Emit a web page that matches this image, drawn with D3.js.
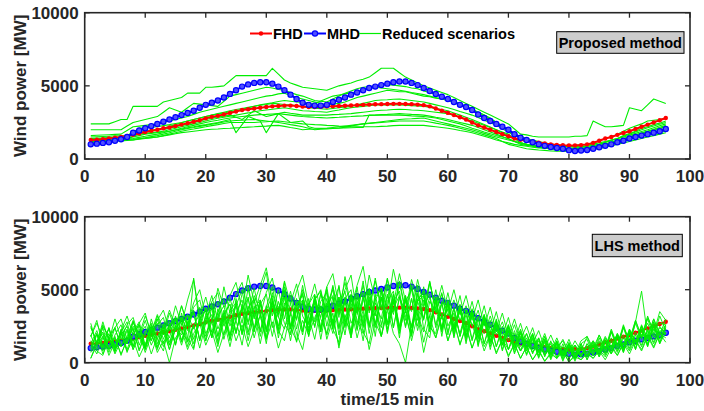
<!DOCTYPE html>
<html>
<head>
<meta charset="utf-8">
<script src="https://cdn.jsdelivr.net/npm/d3@7"></script>
<style>
  body { margin: 0; background: #fff; }
  svg { display: block; font-family: "Liberation Sans", Arial, sans-serif; }
</style>
</head>
<body>
<svg id="chart" width="704" height="411"></svg>
<script>
const W = 704, H = 411;

// time steps 1..96 (15-min intervals)
const steps = d3.range(1, 97);
const xTicks = [0, 10, 20, 30, 40, 50, 60, 70, 80, 90, 100];
const yTicks = [0, 5000, 10000];

// FHD (red) and MHD (blue), MW
const fhd = [1300,1320,1350,1400,1450,1500,1580,1650,1750,1850,1930,2000,2100,2150,2250,2350,2450,2550,2650,2780,
  2880,2950,3050,3150,3250,3350,3400,3450,3500,3550,3600,3630,3650,3650,3620,3580,3550,3550,3560,3580,
  3600,3620,3640,3660,3680,3700,3720,3740,3750,3760,3770,3770,3760,3750,3720,3680,3600,3450,3300,3150,
  3000,2850,2700,2500,2300,2150,2000,1850,1700,1550,1400,1320,1250,1180,1120,1060,1000,960,940,930,
  930,950,1000,1100,1250,1400,1500,1650,1780,1900,2050,2200,2350,2500,2650,2800];
const mhd = [1000,1050,1100,1150,1250,1350,1500,1800,1950,2100,2250,2400,2550,2700,2850,3000,3150,3300,3500,3700,
  3850,4000,4200,4450,4700,4950,5100,5200,5250,5250,5150,4950,4700,4400,4100,3850,3700,3650,3650,3700,
  3900,4050,4200,4400,4550,4700,4850,4950,5050,5150,5250,5300,5300,5200,5050,4850,4650,4450,4250,4100,
  3900,3700,3550,3350,3050,2800,2600,2400,2200,2000,1700,1450,1300,1150,1000,900,820,750,700,600,
  550,580,620,700,800,900,1000,1150,1250,1400,1500,1600,1700,1800,1900,2050];

// Reduced scenarios, proposed method (top panel)
const proposed = [
  [2400,2400,2400,2400,2550,2700,2700,3600,3600,3600,3600,3600,3900,4000,4100,4200,4500,4500,4500,4900,4900,4950,5000,5350,
   5700,5700,5700,5700,5700,5700,6200,5800,5400,5200,5050,4900,4850,4800,4750,4700,4850,5000,5100,5200,5350,5450,5600,5900,
   6200,6200,6200,5900,5600,5400,5200,5000,4850,4700,4550,4400,4200,4000,3800,3600,3400,3200,3000,2800,2600,2400,2050,1700,
   1650,1550,1500,1500,1500,1500,1500,1500,1550,1550,1600,2600,2400,2200,2200,2250,2300,3500,3400,3300,3700,4100,3950,3800],
  [2000,2000,2000,2000,2000,2000,2250,2500,2600,2700,2800,2900,3200,3500,3350,3200,3500,3800,3750,3700,3650,3600,3950,4300,
   4400,4500,4600,4700,4800,4900,4850,4750,4700,4550,4400,4300,4150,4000,3950,3900,4100,4300,4500,4650,4800,4900,4950,5000,
   5050,5100,5050,5000,4950,4850,4800,4650,4550,4400,4250,4100,3950,3800,3600,3400,3200,3000,2750,2500,2250,2000,1750,1500,
   1300,1200,1100,1050,1000,950,920,900,930,970,1000,1100,1250,1400,1500,1700,1900,2100,2250,2400,2600,2650,2700,2800],
  [1600,1620,1640,1660,1680,1700,1950,2200,2250,2300,2350,2400,2500,2600,2700,2800,2900,3050,3200,3300,3400,3500,3600,3700,
   3800,3900,4000,4100,4200,4300,4350,4450,4500,4350,4200,4100,4000,3900,3800,3700,3750,3800,3900,4050,4200,4300,4400,4500,
   4600,4700,4650,4600,4600,4500,4400,4300,4250,4150,4100,4000,3850,3700,3550,3400,3200,3000,2800,2500,2200,1900,1700,1500,
   1300,1200,1100,1050,1000,950,900,850,800,830,870,900,1000,1150,1300,1400,1600,1750,1900,2100,2200,2350,2450,2600],
  [1500,1520,1540,1560,1580,1590,1600,1850,2100,2130,2170,2200,2280,2350,2430,2500,2600,2700,2800,2900,3000,3100,3200,3300,
   3380,3450,3530,3600,3670,3730,3800,3770,3730,3700,3630,3570,3500,3470,3430,3400,3450,3500,3550,3600,3700,3800,3900,4000,
   4030,4050,4080,4100,4050,4000,3950,3900,3800,3700,3600,3500,3380,3250,3130,3000,2830,2650,2480,2300,2070,1830,1600,1430,
   1270,1100,1030,950,880,800,780,750,730,700,770,830,900,1030,1150,1280,1400,1530,1650,1780,1900,2030,2170,2300],
  [1400,1420,1430,1450,1470,1480,1500,1700,1900,1930,1950,1980,2000,2100,2200,2300,2400,2500,2600,2700,2800,2870,2930,3000,
   2850,2700,3000,3300,3100,2900,3000,3100,3200,3130,3070,3000,3000,3000,3000,3000,3030,3050,3080,3100,3150,3200,3250,3300,
   3330,3350,3380,3400,3380,3350,3330,3300,3250,3200,3150,3100,2980,2850,2730,2600,2450,2300,2150,2000,1800,1600,1400,1300,
   1200,1100,1050,1000,950,900,880,850,830,800,870,930,1000,1130,1250,1380,1500,1630,1750,1880,2000,2130,2270,2400],
  [1300,1320,1330,1350,1370,1380,1400,1500,1600,1700,1750,1800,1850,1900,1980,2050,2130,2200,2280,2350,2430,2500,2600,2700,
   1800,2350,2900,2750,2600,1800,2450,3100,2800,2500,2550,2600,2200,2100,2100,2100,2100,2120,2130,2140,2150,2150,3000,3000,
   3000,3000,3000,3000,2980,2950,2930,2900,2850,2800,2700,2600,2500,2400,2250,2100,1980,1850,1730,1600,1500,1400,1200,1000,
   930,870,800,750,700,650,600,600,600,600,670,730,800,930,1050,1180,1300,1430,1550,1680,1800,1930,2070,2200],
  [1200,1230,1260,1290,1310,1340,1370,1400,1480,1550,1630,1700,1800,1900,2000,2100,2200,2300,2400,2500,2580,2650,2730,2800,
   2850,2900,2950,3000,3030,3050,3080,3100,3050,3000,2950,2900,2880,2850,2830,2800,2830,2850,2880,2900,2930,2950,2980,3000,
   3030,3050,3080,3100,3080,3050,3030,3000,2930,2850,2780,2700,2600,2500,2400,2300,2150,2000,1850,1700,1530,1370,1200,1100,
   1000,900,850,800,750,700,680,650,630,600,670,730,800,900,1000,1100,1200,1330,1450,1580,1700,1830,1970,2100],
  [1100,1130,1160,1190,1210,1240,1270,1300,1350,1400,1450,1500,1600,1700,1800,1900,1980,2050,2130,2200,2280,2350,2430,2500,
   2500,2500,2500,2500,2530,2550,2580,2600,2550,2500,2450,2400,2380,2350,2330,2300,2280,2250,2230,2200,2200,2200,2200,2200,
   2230,2250,2280,2300,2300,2300,2300,2300,2250,2200,2150,2100,2030,1950,1880,1800,1680,1550,1430,1300,1200,1100,1000,930,
   870,800,760,730,690,650,640,630,610,600,630,670,700,800,900,1000,1100,1200,1300,1400,1500,1600,1700,1800],
  [1200,1210,1230,1240,1260,1270,1290,1300,1380,1450,1530,1600,1700,1800,1900,2000,2080,2150,2230,2300,2380,2450,2530,2600,
   2630,2650,2680,2700,2650,2600,2550,2500,2430,2350,2280,2200,2100,2000,2030,2050,2080,2100,2180,2250,2330,2400,2430,2470,
   2500,2530,2570,2600,2600,2600,2600,2600,2530,2450,2380,2300,2200,2100,2000,1900,1780,1650,1530,1400,1200,1000,900,800,
   700,660,620,590,550,540,530,510,500,550,600,650,760,880,990,1100,1230,1350,1480,1600,1680,1750,1830,1900],
  [1400,1420,1430,1450,1470,1480,1500,1650,1800,1880,1950,2030,2100,2230,2350,2480,2600,2700,2800,2900,3000,3080,3150,3230,
   3300,3400,3500,3600,3700,3780,3850,3930,4000,3950,3900,3870,3830,3800,3970,4130,4300,4380,4450,4530,4600,4700,4800,4900,
   4850,4800,4750,4700,4630,4550,4480,4400,4300,4200,4100,4000,3870,3730,3600,3370,3130,2900,2700,2500,2300,2000,1700,1550,
   1400,1300,1200,1100,1030,970,900,880,870,850,930,1020,1100,1200,1300,1400,1550,1700,1850,2000,2130,2250,2380,2500],
  [1300,1320,1330,1350,1370,1380,1400,1550,1700,1750,1800,1850,1900,2000,2100,2200,2300,2400,2500,2600,2700,2780,2850,2930,
   3000,3080,3150,3230,3300,3350,3400,3450,3500,3430,3370,3300,3280,3250,3230,3200,3280,3350,3430,3500,3550,3600,3650,3700,
   3700,3700,3700,3700,3680,3650,3630,3600,3530,3450,3380,3300,3150,3000,2850,2700,2530,2350,2180,2000,1850,1700,1400,1100,
   1000,900,800,760,730,690,650,660,670,690,700,800,900,1000,1130,1250,1380,1500,1630,1770,1900,2000,2100,2200],
  [1250,1260,1280,1290,1310,1320,1340,1350,1390,1430,1460,1500,1580,1650,1730,1800,1850,1900,1950,2000,2030,2050,2080,2100,
   2130,2150,2180,2200,2230,2250,2280,2300,2230,2150,2080,2000,2030,2050,2080,2100,2150,2200,2250,2300,2350,2400,2450,2500,
   2550,2600,2650,2700,2730,2750,2780,2800,2700,2600,2500,2400,2300,2200,2100,2000,1880,1750,1630,1500,1400,1300,1200,1100,
   1000,930,870,800,780,750,730,700,730,750,780,800,900,1000,1100,1200,1330,1450,1580,1700,1780,1850,1930,2000]
];

// Scenarios, LHS method (bottom panel)
const lhs = [
  [2700,1200,2400,900,1900,2600,1300,2800,1700,1000,2300,3000,1600,2700,1200,3100,2200,3600,1500,2900,4100,2300,3400,1800,
   4400,2700,5100,3000,4200,2100,4800,3300,5500,2500,3900,4700,2200,4300,3100,5200,2700,4000,1900,4600,3400,5600,2600,4100,
   3000,5300,2400,4500,3200,1800,4700,2900,5500,3600,2400,4200,2300,3700,1700,3300,2100,2900,1300,2400,1600,900,1800,1100,
   1500,700,1300,500,1100,1400,600,1200,900,400,1300,800,1500,900,2100,1200,2400,1600,2900,1800,3100,2200,2700,2600],
  [1000,2000,600,1600,2400,1100,1800,2900,1200,2200,1500,2600,3100,1400,2500,1900,3300,2300,3800,2000,2900,4200,2500,3300,
   2000,4000,2800,4600,3500,1600,4200,3100,5000,2400,3600,1900,4100,2800,4700,3400,2000,3900,4900,2700,3600,1500,4300,3200,
   5000,2600,3700,4600,2900,5200,3300,2100,4200,3500,4800,2500,3400,2000,3600,2600,1400,2800,2000,2600,1200,2100,1500,800,
   1400,900,1600,600,1000,1300,500,900,1200,600,1000,1500,800,1700,1100,2000,900,2300,1500,1900,2700,1700,2400,2000],
  [1500,900,2500,1700,700,2200,3200,1900,2700,3400,1800,2900,3600,2200,3900,2600,4300,5700,3200,4500,2900,5100,3800,4600,
   5500,3600,6000,4100,5300,6500,4200,3300,5600,4000,2900,5000,3700,2500,4800,3400,5300,3100,5900,3900,4700,3300,6000,4300,
   5100,3800,6400,4500,3500,5700,4200,3000,5600,3400,4700,3200,4300,2900,3900,2500,3600,2000,3200,1900,2800,1500,2600,1300,
   2000,1000,1700,700,1400,1000,1500,600,1200,500,1000,1400,700,1500,1100,1900,1000,2200,1400,2600,1600,2300,1900,2300],
  [300,1200,1800,500,1400,2000,800,1600,400,1300,2100,700,1500,0,1700,2300,900,2000,2700,1200,2200,700,2000,3000,
   1500,2600,1100,2300,3200,1600,2800,1000,2400,3300,1400,2900,1900,3100,3900,1600,3000,1200,2700,3800,1700,3300,900,2800,
   1800,3500,4200,2200,3600,1500,3300,700,2600,1700,3200,1500,2700,1300,2400,1000,2200,1100,1900,700,1600,500,1300,300,
   1100,200,900,100,700,300,900,0,600,200,800,300,900,400,1200,500,1400,800,1600,900,1900,1100,2000,1700],
  [2400,1400,2600,1700,900,2300,1300,2500,1900,1000,2600,1600,2600,1700,3200,2100,1500,5800,2600,3800,2100,3500,4400,2500,
   3900,5000,2600,4300,2200,3800,5200,3100,2300,4100,5400,3200,2400,4600,3000,2000,4100,5200,2900,2200,4500,2700,5100,3400,
   2400,4700,3300,5600,3600,2500,4800,3000,4500,2600,4200,3600,2300,3900,2400,3600,2000,3300,1800,2900,1500,2600,1200,2300,
   1100,2000,800,1800,600,1400,500,1300,600,1100,700,1500,900,1800,1000,2000,1200,2300,1400,2500,1700,3000,2000,2600],
  [1100,2000,800,1800,2400,1100,2200,900,1900,2500,1200,2200,1100,2400,3000,1500,2800,1300,2900,3600,1700,3200,3900,1900,
   3400,4300,2100,3900,1800,3600,4600,2300,4100,2000,3800,4800,2600,4400,2100,4000,5000,2400,4500,1900,4200,2500,4800,2700,
   4500,2000,4200,4900,2500,4400,2200,3900,4700,2400,4100,2100,3700,1800,3300,1500,3000,1300,2600,1100,2300,900,2000,800,
   1700,700,1500,500,1300,400,1100,300,900,400,1100,500,1200,500,1500,700,1700,900,1900,1100,2200,1300,2200,2000],
  [1900,800,500,1700,600,1500,2300,900,2000,700,1900,1000,2200,900,2500,1200,2700,1000,3000,1500,2800,1100,3200,1600,
   2900,1200,3600,1700,3300,1300,3900,2200,1500,3500,2000,900,3200,1600,3800,1900,3400,1000,3300,1700,4000,2100,1300,3600,
   1800,3700,2000,1300,0,2600,3600,1400,3200,1700,3400,1500,2900,1200,2600,1000,2200,800,1900,600,1600,400,1300,300,
   1100,200,800,100,600,300,700,100,400,200,600,300,800,200,1000,500,1300,600,1500,800,1800,1000,2000,1400],
  [1800,2700,1700,1100,2400,3000,1600,2800,1900,3200,2100,3300,2300,3600,2500,3900,2600,4100,5000,3200,4600,2800,5200,3400,
   4700,5500,3400,5100,3200,4800,5800,3600,5200,3300,4900,6000,3900,5400,3500,5200,6100,3800,5500,3700,5300,6600,3900,5600,
   3800,5800,4000,6100,4200,3500,5700,3900,5500,3700,5300,3500,5000,3300,4600,2900,4300,2500,3800,2100,3400,1800,3000,1600,
   2500,1300,2200,1000,1900,900,1600,700,1500,800,1800,1000,1900,1000,2300,1200,2600,1400,2900,1700,3200,2000,3500,2900],
  [700,1500,2100,900,1700,600,1500,2400,900,2000,2700,1300,2400,1200,2300,3000,1400,2600,3300,1800,3000,1500,3300,4000,
   2100,3700,4400,2400,4000,4700,2400,4200,2700,1900,4000,4600,2700,4300,2400,4100,2300,4500,2800,4700,2900,2000,4300,2600,
   4400,2700,4700,2400,4200,5000,2900,4600,2500,4200,2400,4000,2200,3700,1900,3400,1700,3200,1500,2800,1200,2500,1000,2100,
   900,1900,700,1600,500,1500,400,1300,300,1300,500,1400,600,1600,800,1900,900,2100,1200,2500,1300,2800,1600,2500],
  [1800,2900,1100,2400,800,2100,2800,1100,2600,900,3000,1600,800,2700,1200,3400,1700,900,3200,1500,3900,1800,3600,1500,
   4200,2000,4500,2100,4000,1700,4400,2200,4900,2400,1500,4300,1800,4600,2100,5000,2300,1400,4400,2000,5200,2400,4500,1800,
   4900,2100,4300,1700,4600,2000,5300,2300,1700,4500,2100,4100,1700,3700,1300,3400,1100,3000,900,2600,800,2200,600,1800,
   500,1600,300,1400,200,1200,100,1100,300,1300,200,1200,400,1500,600,1900,700,2200,900,2500,1100,2800,1400,2400],
  [1300,600,1700,2300,1000,2100,700,1900,2600,1100,2400,900,2200,2900,1300,2600,3300,1600,3000,3700,1800,3400,1600,3300,
   3900,1900,3700,4400,2100,3900,1800,3800,4500,2300,4100,2100,4000,4700,2300,4400,2400,5300,2500,4600,2200,4300,5000,2400,
   4500,2300,4400,2200,4300,2000,4200,4600,2400,2000,4100,1900,3800,1800,3600,1600,3200,1300,2900,1100,2500,900,2200,800,
   2000,600,1700,400,1500,300,1300,200,1200,400,1300,500,1400,600,1700,800,1900,1000,2100,1200,2300,1400,2500,1900],
  [1300,2200,1000,2000,800,1900,2500,1100,2300,900,2100,2700,1300,2500,3100,1500,2900,3500,1600,3100,3700,1800,3400,4000,
   2000,3800,1900,3700,4300,2200,4100,2000,3900,4600,2300,4200,2100,4300,4900,2500,4500,2300,4400,5000,2600,4600,2400,4500,
   5100,2700,4700,2500,4600,2400,4300,4900,2600,4500,2300,4300,2400,4000,2100,3700,1800,3300,1500,3000,1300,2600,1100,2200,
   1000,2000,700,1800,600,1500,500,1400,400,1300,1600,500,1700,700,2100,900,2400,1200,2800,4900,1800,3000,1900,3000],
  [800,1900,1000,2400,1100,2200,900,2100,2800,1200,2500,1100,2700,1200,3000,1400,2700,3400,1500,3200,1700,3700,1900,3600,
   4100,2000,3900,2200,4300,2300,4200,2500,4500,2400,4400,2200,4400,2400,4200,4800,2600,4500,2400,4400,2300,4500,2500,4700,
   2600,4600,2400,4500,2400,4400,2500,4300,2300,4200,2200,4100,2000,3700,1800,3400,1600,3100,1400,2700,1200,2400,900,2100,
   800,1800,500,1600,400,1400,300,1200,200,1100,400,1300,500,1500,600,1800,800,2000,1000,2300,1200,2600,1300,2600],
  [2500,1300,2800,1500,3000,1600,2600,3100,1700,2900,1500,3200,1900,3400,2200,3900,2500,3800,4300,2600,4200,4800,2800,4400,
   2900,4700,5300,3100,4800,6200,3200,5000,3000,4900,3000,5300,3200,4300,5000,3100,5200,3300,5000,6000,3300,5300,3400,5800,
   3600,5700,3500,5500,3400,5300,3200,5200,3100,5000,3000,4800,2900,4600,2600,4200,2400,3900,2100,3500,1800,3100,1500,2700,
   1300,2400,1000,2000,800,1700,700,1600,600,1500,1800,700,1900,900,2200,1100,2500,1300,2700,1600,3000,1800,3200,2200],
  [300,1400,2000,700,1800,500,1700,2300,800,2000,600,1800,2400,900,2300,2900,1100,2600,1000,2700,3300,1300,2900,1100,
   3000,3700,1500,3500,1300,3300,4100,1700,3800,1500,3600,4300,1800,4100,1600,3900,4600,1900,4300,1700,4100,4800,2000,4400,
   1800,4200,4900,2000,4500,1900,4300,4800,2100,4400,1800,4200,1800,3900,1500,3600,1200,3200,1100,2800,900,2400,700,2000,
   600,1700,400,1500,300,1300,200,1100,100,1100,200,1200,400,1400,600,1700,700,2000,900,2200,1100,2500,1300,2100]
];

const textColor = "#262626";
const font = "'Liberation Sans', Arial, Helvetica, sans-serif";
const svg = d3.select("#chart");
svg.append("rect").attr("width", W).attr("height", H).attr("fill", "#fff");

const left = 84.7, right = 690;
const x = d3.scaleLinear().domain([0, 100]).range([left, right]);

function drawPanel(top, bottom, scen, label, box, greenOnTop, showLegend, showXLabel) {
  const y = d3.scaleLinear().domain([0, 10000]).range([bottom, top]);
  const g = svg.append("g");
  const line = d3.line().x((d, i) => x(steps[i])).y(d => y(d));

  const gGreen = g.append("g");
  const gMain = g.append("g");
  if (greenOnTop) gGreen.raise();

  gGreen.selectAll("path")
    .data(scen)
    .join("path")
    .attr("d", line)
    .attr("fill", "none")
    .attr("stroke", "#00ee00")
    .attr("stroke-width", greenOnTop ? 0.9 : 1.1)
    .attr("stroke-linejoin", "round");

  gMain.append("path")
    .attr("d", line(fhd))
    .attr("fill", "none")
    .attr("stroke", "#ff0000")
    .attr("stroke-width", 2);
  gMain.append("g").selectAll("circle")
    .data(fhd)
    .join("circle")
    .attr("cx", (d, i) => x(steps[i]))
    .attr("cy", d => y(d))
    .attr("r", 2.2)
    .attr("fill", "#ff0000");

  gMain.append("path")
    .attr("d", line(mhd))
    .attr("fill", "none")
    .attr("stroke", "#0000ff")
    .attr("stroke-width", 2);
  gMain.append("g").selectAll("circle")
    .data(mhd)
    .join("circle")
    .attr("cx", (d, i) => x(steps[i]))
    .attr("cy", d => y(d))
    .attr("r", 2.6)
    .attr("fill", "#5050ff")
    .attr("stroke", "#0000ff")
    .attr("stroke-width", 1.2);

  // box + ticks
  const tl = 5;
  const axG = g.append("g").attr("stroke", textColor).attr("stroke-width", 1.3);
  xTicks.forEach(t => {
    axG.append("line").attr("x1", x(t)).attr("x2", x(t)).attr("y1", bottom).attr("y2", bottom - tl);
    axG.append("line").attr("x1", x(t)).attr("x2", x(t)).attr("y1", top).attr("y2", top + tl);
  });
  yTicks.forEach(t => {
    axG.append("line").attr("x1", left).attr("x2", left + tl).attr("y1", y(t)).attr("y2", y(t));
    axG.append("line").attr("x1", right).attr("x2", right - tl).attr("y1", y(t)).attr("y2", y(t));
  });
  g.append("rect")
    .attr("x", left).attr("y", top)
    .attr("width", right - left).attr("height", bottom - top)
    .attr("fill", "none").attr("stroke", textColor).attr("stroke-width", 1.6);

  const lab = g.append("g")
    .attr("font-family", font).attr("font-weight", "bold")
    .attr("font-size", 17).attr("fill", textColor);
  lab.selectAll("text.xt")
    .data(xTicks)
    .join("text")
    .attr("class", "xt")
    .attr("x", d => x(d))
    .attr("y", bottom + 23)
    .attr("text-anchor", "middle")
    .text(d => d);
  lab.selectAll("text.yt")
    .data(yTicks)
    .join("text")
    .attr("class", "yt")
    .attr("x", left - 6)
    .attr("y", d => y(d) + 6)
    .attr("text-anchor", "end")
    .text(d => d);
  lab.append("text")
    .attr("transform", `translate(26,${(top + bottom) / 2}) rotate(-90)`)
    .attr("text-anchor", "middle")
    .text("Wind power [MW]");
  if (showXLabel) {
    lab.append("text")
      .attr("x", (left + right) / 2)
      .attr("y", bottom + 42)
      .attr("text-anchor", "middle")
      .text("time/15 min");
  }

  // method label box
  g.append("rect")
    .attr("x", box[0]).attr("y", box[1])
    .attr("width", box[2] - box[0]).attr("height", box[3] - box[1])
    .attr("fill", "#cccccc").attr("stroke", "#000").attr("stroke-width", 1);
  g.append("text")
    .attr("x", (box[0] + box[2]) / 2)
    .attr("y", (box[1] + box[3]) / 2 + 5.2)
    .attr("text-anchor", "middle")
    .attr("font-family", font).attr("font-weight", "bold")
    .attr("font-size", 14.5).attr("fill", "#000")
    .text(label);

  if (showLegend) {
    const ly = 33.5;
    const lg = g.append("g").attr("font-family", font).attr("font-weight", "bold")
      .attr("font-size", 14.5).attr("fill", "#000");
    const items = [
      { name: "FHD", x0: 250, color: "#ff0000", marker: "dot" },
      { name: "MHD", x0: 304, color: "#0000ff", marker: "circle" },
      { name: "Reduced scenarios", x0: 359, color: "#00ee00", marker: null }
    ];
    items.forEach(it => {
      lg.append("line").attr("x1", it.x0).attr("x2", it.x0 + 22)
        .attr("y1", ly).attr("y2", ly)
        .attr("stroke", it.color).attr("stroke-width", it.marker ? 2 : 1.2);
      if (it.marker === "dot") {
        lg.append("circle").attr("cx", it.x0 + 11).attr("cy", ly).attr("r", 2.2).attr("fill", it.color);
      } else if (it.marker === "circle") {
        lg.append("circle").attr("cx", it.x0 + 11).attr("cy", ly).attr("r", 2.6)
          .attr("fill", "#5050ff").attr("stroke", it.color).attr("stroke-width", 1.2);
      }
      lg.append("text").attr("x", it.x0 + 23).attr("y", ly + 5.2).text(it.name);
    });
  }
}

drawPanel(12.7, 159, proposed, "Proposed method", [556.7, 31.7, 684, 53.3], false, true, false);
drawPanel(216.7, 362.7, lhs, "LHS method", [592.3, 234.3, 682.3, 256.7], true, false, true);
</script>
</body>
</html>
